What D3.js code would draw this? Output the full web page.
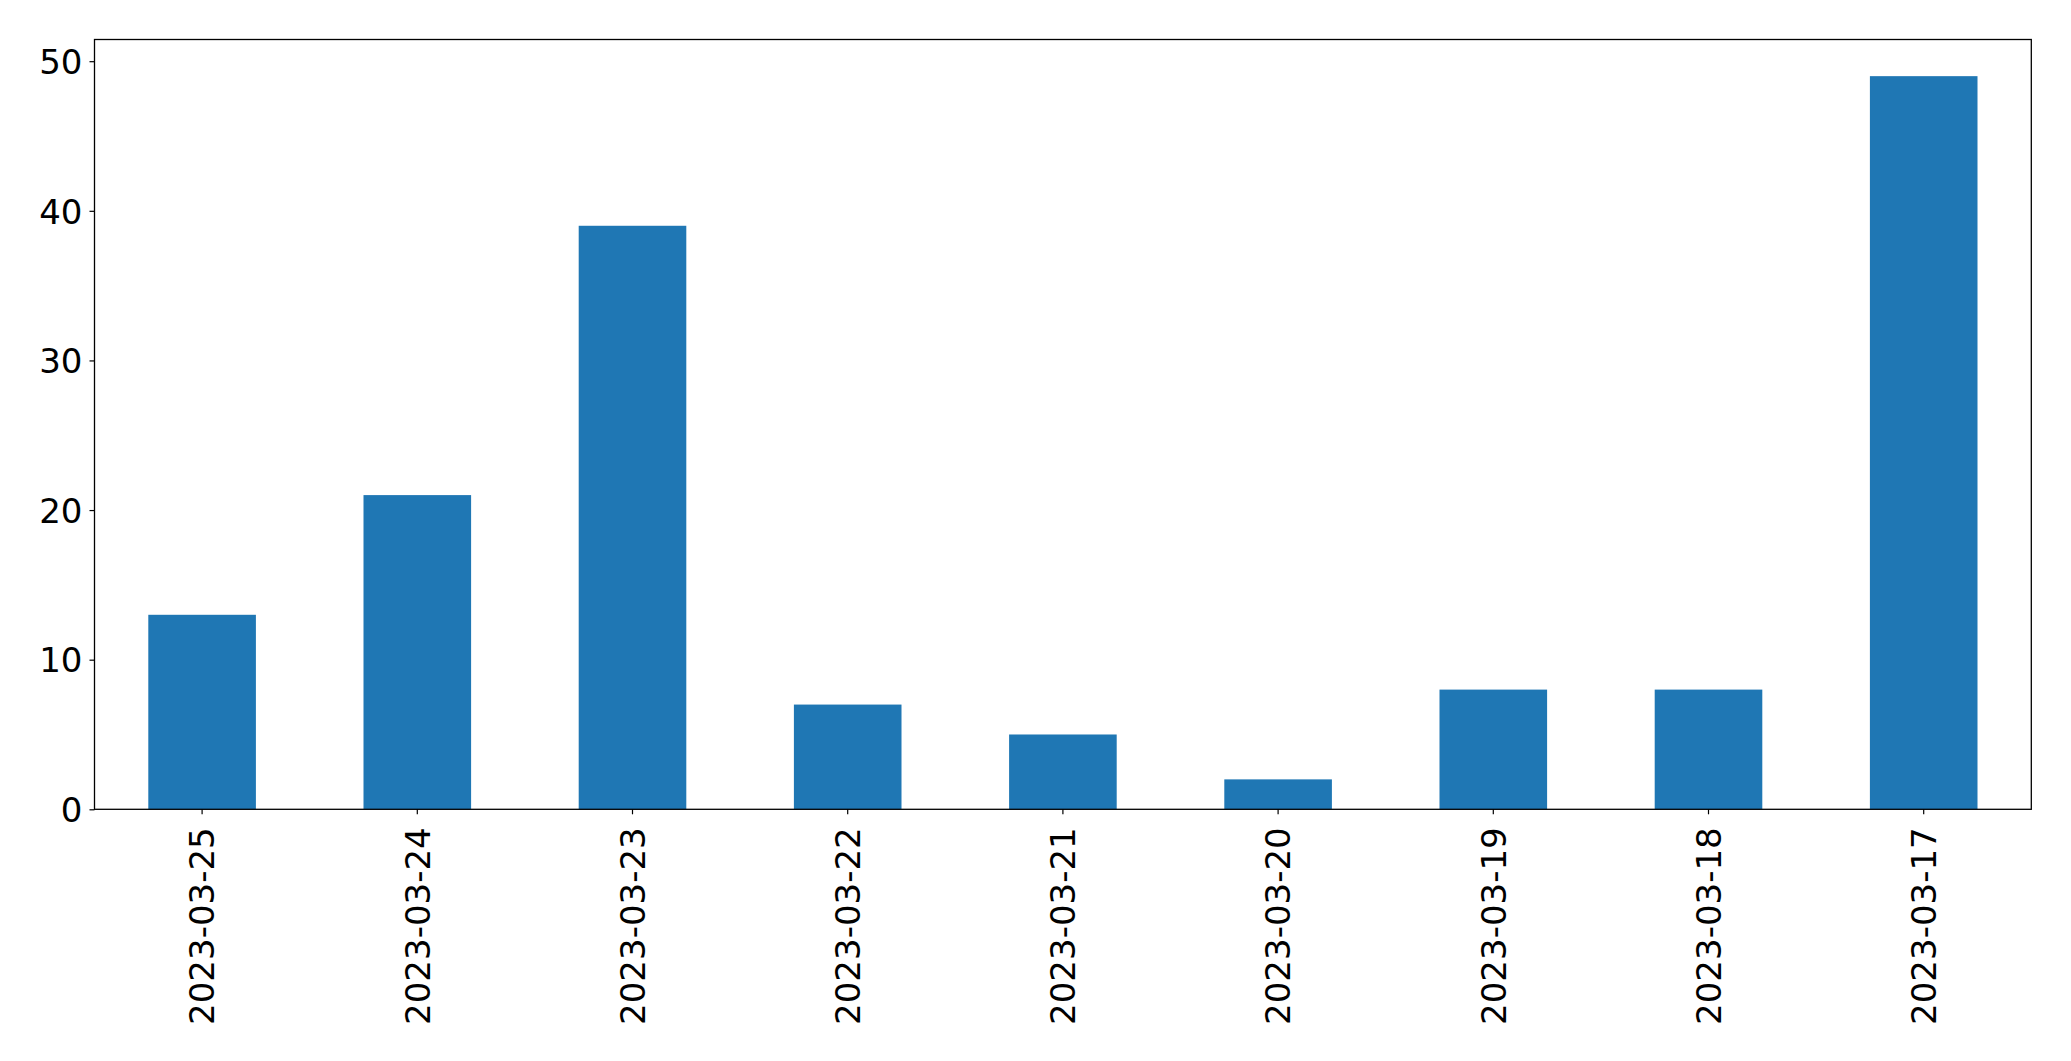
<!DOCTYPE html>
<html>
<head>
<meta charset="utf-8">
<script src="https://cdn.jsdelivr.net/npm/d3@7"></script>
<style>
  html, body { margin: 0; padding: 0; background: #fff; }
  svg { display: block; }
  text { font-family: "DejaVu Sans", sans-serif; }
</style>
</head>
<body>
<script>
const categories = ["2023-03-25", "2023-03-24", "2023-03-23", "2023-03-22", "2023-03-21", "2023-03-20", "2023-03-19", "2023-03-18", "2023-03-17"];
const values = [13, 21, 39, 7, 5, 2, 8, 8, 49];
const yTicks = [0, 10, 20, 30, 40, 50];

const W = 2071, H = 1061;
const margin = { left: 94.5, right: W - 2031.3, top: 39.5, bottom: H - 809.3 };
const innerW = W - margin.left - margin.right;
const innerH = H - margin.top - margin.bottom;

const svg = d3.select("body").append("svg").attr("width", W).attr("height", H);
const g = svg.append("g").attr("transform", `translate(${margin.left},${margin.top})`);

const x = d3.scaleBand().domain(categories).range([0, innerW]).paddingInner(0.5).paddingOuter(0.25);
const y = d3.scaleLinear().domain([0, d3.max(values) * 1.05]).range([innerH, 0]);

g.selectAll("rect.bar").data(values).enter().append("rect")
  .attr("class", "bar")
  .attr("x", (d, i) => x(categories[i]))
  .attr("width", x.bandwidth())
  .attr("y", d => y(d))
  .attr("height", d => y(0) - y(d))
  .attr("fill", "#1f77b4");

const fs = 34;
const yAxis = g.append("g").call(d3.axisLeft(y).tickValues(yTicks).tickSize(5).tickPadding(7));
yAxis.select(".domain").remove();
yAxis.selectAll("text").style("font-size", fs + "px").attr("fill", "#000").attr("dy", "0.36em");
yAxis.selectAll("line").attr("stroke", "#000").attr("stroke-width", 1.2);

const xAxis = g.append("g").attr("transform", `translate(0,${innerH})`)
  .call(d3.axisBottom(x).tickSize(5).tickPadding(0));
xAxis.select(".domain").remove();
xAxis.selectAll("line").attr("stroke", "#000").attr("stroke-width", 1.2);
xAxis.selectAll("text")
  .style("font-size", fs + "px").attr("fill", "#000")
  .attr("text-anchor", "end")
  .attr("transform", "translate(0,18) rotate(-90)")
  .attr("x", 0).attr("y", 0).attr("dy", "0.36em");

g.append("rect").attr("x", 0).attr("y", 0).attr("width", innerW).attr("height", innerH)
  .attr("fill", "none").attr("stroke", "#000").attr("stroke-width", 1.3);
</script>
</body>
</html>
